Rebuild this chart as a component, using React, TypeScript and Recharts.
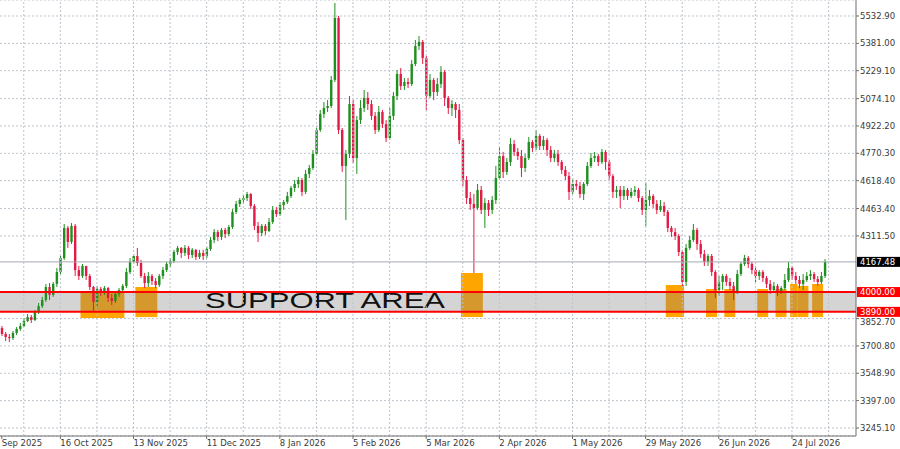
import React from "react";
import { ComposedChart, Bar, XAxis, YAxis, CartesianGrid, ReferenceLine, ReferenceArea } from "recharts";

// daily candles, open of each bar = previous close
const START_OPEN = 3800;
const CLOSES = [
  3767, 3750, 3745, 3773, 3795, 3811, 3839, 3861, 3845, 3889,
  3922, 3956, 4028, 3984, 4045, 4111, 4189, 4356, 4278, 4367,
  4122, 4089, 4145, 4089, 4028, 3945, 4017, 4000, 4022, 3967,
  3950, 3989, 4011, 4034, 4111, 4167, 4200, 4161, 4089, 4050,
  4089, 4061, 4039, 4089, 4122, 4156, 4172, 4222, 4245, 4217,
  4245, 4206, 4234, 4195, 4217, 4200, 4239, 4289, 4333, 4306,
  4345, 4322, 4361, 4445, 4489, 4511, 4522, 4544, 4478, 4367,
  4328, 4367, 4339, 4389, 4456, 4433, 4483, 4500, 4533, 4578,
  4600, 4622, 4556, 4656, 4689, 4767, 4900, 4989, 5022, 5033,
  5178, 5522, 4900, 4700, 4767, 5044, 4744, 4955, 5022, 5078,
  5044, 4978, 4900, 5000, 4933, 4855, 4978, 5089, 5211, 5144,
  5166, 5155, 5266, 5366, 5389, 5300, 5089, 5178, 5111, 5155,
  5222, 5078, 5022, 5044, 5011, 4844, 4622, 4522, 4489, 4467,
  4567, 4456, 4494, 4456, 4511, 4633, 4755, 4667, 4722, 4822,
  4778, 4755, 4689, 4744, 4833, 4800, 4867, 4811, 4844, 4789,
  4744, 4767, 4722, 4678, 4644, 4556, 4600, 4589, 4544, 4600,
  4700, 4744, 4755, 4722, 4778, 4722, 4644, 4556, 4567, 4533,
  4567, 4533, 4556, 4567, 4522, 4456, 4511, 4533, 4489, 4456,
  4478, 4445, 4356, 4333, 4311, 4222, 4056, 4245, 4289, 4345,
  4267, 4211, 4167, 4200, 4111, 4011, 4056, 4089, 4056, 4034,
  4000, 4100, 4156, 4189, 4156, 4122, 4089, 4111, 4078, 4045,
  4011, 4034, 4000, 4022, 4067, 4134, 4089, 4067, 4045, 4067,
  4089, 4100, 4072, 4056, 4089, 4167.48,
];
const HIGHS = [
  3811, 3778, 3767, 3784, 3806, 3828, 3856, 3878, 3873, 3900,
  3939, 3973, 4045, 4050, 4056, 4134, 4200, 4378, 4367, 4383,
  4378, 4145, 4156, 4145, 4100, 4034, 4034, 4028, 4034, 4028,
  3989, 4000, 4022, 4045, 4134, 4189, 4211, 4245, 4178, 4106,
  4111, 4100, 4078, 4100, 4139, 4167, 4189, 4234, 4256, 4250,
  4261, 4256, 4245, 4239, 4234, 4234, 4250, 4306, 4350, 4345,
  4356, 4356, 4372, 4461, 4506, 4522, 4539, 4556, 4550, 4489,
  4389, 4378, 4378, 4411, 4478, 4472, 4500, 4511, 4556, 4589,
  4622, 4639, 4633, 4678, 4706, 4789, 4922, 5011, 5055, 5066,
  5200, 5605, 5533, 4911, 4789, 5089, 5066, 4978, 5066, 5122,
  5111, 5066, 5000, 5033, 5011, 4955, 5022, 5111, 5233, 5244,
  5189, 5189, 5289, 5400, 5422, 5400, 5311, 5211, 5189, 5189,
  5255, 5233, 5089, 5066, 5055, 5044, 4855, 4644, 4556, 4544,
  4600, 4589, 4522, 4511, 4533, 4700, 4805, 4778, 4744, 4855,
  4844, 4800, 4789, 4767, 4861, 4844, 4900, 4878, 4867, 4855,
  4811, 4789, 4789, 4733, 4700, 4667, 4633, 4622, 4611, 4611,
  4722, 4772, 4778, 4767, 4794, 4789, 4733, 4656, 4589, 4589,
  4589, 4578, 4578, 4589, 4578, 4533, 4606, 4567, 4544, 4511,
  4511, 4500, 4456, 4367, 4356, 4322, 4234, 4267, 4311, 4378,
  4356, 4289, 4234, 4211, 4211, 4122, 4089, 4100, 4100, 4078,
  4056, 4122, 4167, 4206, 4200, 4167, 4145, 4122, 4122, 4089,
  4067, 4056, 4045, 4034, 4100, 4167, 4145, 4111, 4089, 4100,
  4111, 4122, 4111, 4089, 4111, 4183,
];
const LOWS = [
  3756, 3728, 3723, 3734, 3761, 3784, 3806, 3834, 3828, 3839,
  3878, 3911, 3945, 3956, 3973, 4028, 4100, 4178, 4245, 4267,
  4089, 4067, 4078, 4067, 4011, 3895, 3911, 3978, 3984, 3945,
  3928, 3939, 3973, 4000, 4022, 4100, 4156, 4145, 4078, 4022,
  4028, 4039, 4022, 4028, 4072, 4111, 4139, 4161, 4206, 4189,
  4200, 4183, 4189, 4178, 4183, 4178, 4189, 4228, 4272, 4283,
  4289, 4300, 4311, 4350, 4433, 4472, 4489, 4506, 4461, 4345,
  4278, 4311, 4317, 4333, 4378, 4417, 4422, 4456, 4489, 4522,
  4556, 4578, 4533, 4544, 4633, 4678, 4755, 4889, 4966, 5000,
  5022, 5166, 4878, 4667, 4400, 4744, 4717, 4656, 4933, 5000,
  5011, 4955, 4878, 4889, 4911, 4833, 4844, 4955, 5066, 5122,
  5122, 5133, 5144, 5255, 5344, 5266, 5011, 5078, 5066, 5089,
  5133, 5033, 4989, 4978, 4966, 4822, 4589, 4489, 4456, 4106,
  4456, 4433, 4356, 4422, 4433, 4489, 4622, 4633, 4650, 4700,
  4755, 4733, 4639, 4667, 4733, 4778, 4789, 4789, 4789, 4755,
  4722, 4722, 4700, 4656, 4622, 4511, 4544, 4567, 4522, 4511,
  4589, 4689, 4722, 4700, 4711, 4678, 4622, 4522, 4522, 4467,
  4511, 4511, 4522, 4533, 4500, 4428, 4367, 4478, 4467, 4433,
  4445, 4422, 4333, 4306, 4289, 4200, 4034, 4034, 4234, 4278,
  4234, 4189, 4145, 4145, 4089, 3967, 3978, 4011, 4034, 4011,
  3956, 3989, 4089, 4145, 4134, 4100, 4056, 4067, 4056, 4022,
  3989, 4000, 3978, 3989, 4011, 4056, 4067, 4045, 4022, 4011,
  4056, 4067, 4056, 4034, 4045, 4078,
];
const EMPTY_BARS = 8; // chart shift on the right

const DATE_TICKS = [0, 16, 36, 56, 76, 96, 116, 136, 156, 176, 196, 216];
const DATE_LABELS = [
  "Sep 2025", "16 Oct 2025", "13 Nov 2025", "11 Dec 2025", "8 Jan 2026", "5 Feb 2026",
  "5 Mar 2026", "2 Apr 2026", "1 May 2026", "29 May 2026", "26 Jun 2026", "24 Jul 2026",
];
const GRID_BARS = [6, 16, 26, 36, 46, 56, 66, 76, 86, 96, 106, 116, 126, 136, 146, 156, 166, 176, 186, 196, 206, 216, 226];
const PRICE_TICKS = [5532.9, 5381.0, 5229.1, 5074.1, 4922.2, 4770.3, 4618.4, 4463.4, 4311.5, 3852.7, 3700.8, 3548.9, 3397.0, 3245.1];
const PRICE_MIN = 3200.6;
const PRICE_MAX = 5621.7;

const BID = 4167.48;
const SUPPORT_TOP = 4000;
const SUPPORT_BOTTOM = 3890;

// orange touch zones: bar range and price range
const ZONE_FROM = [22, 37, 126, 182, 193, 198, 207, 212, 216, 218, 222];
const ZONE_TO = [33, 42, 131, 186, 195, 200, 209, 214, 217, 220, 224];
const ZONE_TOP = [4006, 4028, 4106, 4039, 4017, 4017, 4017, 4017, 4045, 4034, 4045];
const ZONE_BOTTOM = [3856, 3861, 3861, 3861, 3861, 3861, 3861, 3861, 3861, 3861, 3861];

const BULL = "#1f8f1f";
const BEAR = "#e31a45";
const GRID = "#bcc3cc";
const AXIS = "#6e6e6e";
const TEXT = "#3a3a3a";
const FONT = "DejaVu Sans, sans-serif";

const rows = Array.from({ length: CLOSES.length + EMPTY_BARS }, (_, i) => {
  if (i >= CLOSES.length) return { i };
  const open = i === 0 ? START_OPEN : CLOSES[i - 1];
  return { i, open, close: CLOSES[i], high: HIGHS[i], low: LOWS[i], range: [LOWS[i], HIGHS[i]] };
});

function Candle(props: any) {
  const { x, y, width, height, payload } = props;
  if (!payload || payload.close == null || height == null) return null;
  const { open, close, high, low } = payload;
  const top = Math.min(y, y + height);
  const h = Math.abs(height);
  const span = high - low || 1;
  const toY = (p: number) => top + ((high - p) / span) * h;
  const cx = x + width / 2;
  const color = close >= open ? BULL : BEAR;
  const bTop = toY(Math.max(open, close));
  const bBot = toY(Math.min(open, close));
  return (
    <g>
      <line x1={cx} x2={cx} y1={top} y2={top + h} stroke={color} strokeWidth={1} />
      <rect x={cx - 1.2} y={bTop} width={2.4} height={Math.max(bBot - bTop, 1)} fill={color} />
    </g>
  );
}

function DateTick(props: any) {
  const { x, y, payload } = props;
  const k = DATE_TICKS.indexOf(payload.value);
  if (k < 0) return <g />;
  return (
    <g>
      <line x1={x} x2={x} y1={y} y2={y + 3} stroke={AXIS} />
      <text x={x} y={y + 10} fontSize={8.5} fontFamily={FONT} fill={TEXT} textAnchor="start">
        {DATE_LABELS[k]}
      </text>
    </g>
  );
}

function PriceTick(props: any) {
  const { x, y, payload } = props;
  const v = payload.value as number;
  // the label just under the 3890 tag sits a little lower, half hidden in the original
  const dy = Math.abs(v - SUPPORT_BOTTOM) < 60 ? 3 : 0;
  return (
    <text x={x} y={y + 3 + dy} fontSize={8.5} fontFamily={FONT} fill={TEXT} textAnchor="start">
      {v.toFixed(2)}
    </text>
  );
}

function PriceTag({ viewBox, value, color }: any) {
  if (!viewBox) return null;
  const x = viewBox.x + viewBox.width + 1;
  return (
    <g>
      <rect x={x} y={viewBox.y - 5} width={44} height={10} fill={color} />
      <text x={x + 3} y={viewBox.y + 3.1} fontSize={8.5} fontFamily={FONT} fill="#ffffff">
        {value.toFixed(2)}
      </text>
    </g>
  );
}

function SupportText({ viewBox }: any) {
  if (!viewBox) return null;
  return (
    <text
      x={viewBox.x + 205}
      y={viewBox.y + viewBox.height - 3.5}
      fontSize={22}
      fontFamily="Liberation Sans, Arial, sans-serif"
      fill="#111111"
      textLength={240}
      lengthAdjust="spacingAndGlyphs"
    >
      SUPPORT AREA
    </text>
  );
}

export default function App() {
  return (
    <div style={{ position: "absolute", left: 0, top: 0, background: "#fff" }}>
      <ComposedChart
        width={900}
        height={449}
        data={rows}
        margin={{ top: 0, right: 0, bottom: 0, left: 0 }}
        barCategoryGap={0}
      >
        <CartesianGrid vertical={false} stroke={GRID} strokeDasharray="2 2" />
        <XAxis
          dataKey="i"
          type="category"
          interval={0}
          height={13}
          tickSize={0}
          tickMargin={0}
          tickLine={false}
          axisLine={{ stroke: AXIS }}
          tick={(p: any) => <DateTick {...p} />}
        />
        <YAxis
          orientation="right"
          width={44}
          type="number"
          domain={[PRICE_MIN, PRICE_MAX]}
          allowDataOverflow
          ticks={PRICE_TICKS}
          interval={0}
          tickSize={3}
          tickMargin={1}
          axisLine={{ stroke: AXIS }}
          tickLine={{ stroke: AXIS }}
          tick={(p: any) => <PriceTick {...p} />}
        />
        {GRID_BARS.map((b) => (
          <ReferenceLine key={"g" + b} x={b} stroke={GRID} strokeDasharray="2 2" />
        ))}
        {ZONE_FROM.map((f, k) => (
          <ReferenceArea
            key={"z" + k}
            x1={f}
            x2={ZONE_TO[k]}
            y1={ZONE_BOTTOM[k]}
            y2={ZONE_TOP[k]}
            fill="#ffa500"
            fillOpacity={1}
            stroke="none"
          />
        ))}
        <ReferenceArea
          y1={SUPPORT_BOTTOM}
          y2={SUPPORT_TOP}
          fill="#808080"
          fillOpacity={0.34}
          stroke="none"
          label={(p: any) => <SupportText viewBox={p.viewBox} />}
        />
        <ReferenceLine
          y={BID}
          stroke="#a4abb3"
          strokeWidth={1}
          label={(p: any) => <PriceTag viewBox={p.viewBox} value={BID} color="#000000" />}
        />
        <Bar dataKey="range" shape={(p: any) => <Candle {...p} />} isAnimationActive={false} />
        <ReferenceLine
          y={SUPPORT_TOP}
          stroke="#ff0000"
          strokeWidth={2}
          label={(p: any) => <PriceTag viewBox={p.viewBox} value={SUPPORT_TOP} color="#ff0000" />}
        />
        <ReferenceLine
          y={SUPPORT_BOTTOM}
          stroke="#ff0000"
          strokeWidth={2}
          label={(p: any) => <PriceTag viewBox={p.viewBox} value={SUPPORT_BOTTOM} color="#ff0000" />}
        />
      </ComposedChart>
    </div>
  );
}
